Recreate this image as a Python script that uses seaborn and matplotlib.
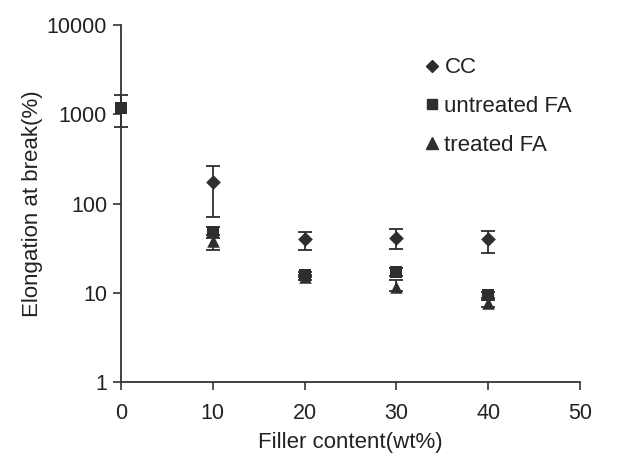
import numpy as np
import pandas as pd
import matplotlib
matplotlib.use("Agg")
import matplotlib.pyplot as plt
import seaborn as sns
from matplotlib.ticker import FixedLocator, FixedFormatter, NullLocator
from matplotlib.lines import Line2D

# ---- data ----
cc_x = [10, 20, 30, 40]
cc_y = [172, 40, 41, 40]
cc_lo = [70, 30, 31, 28]
cc_hi = [262, 48, 52, 49]

ufa_x = [0, 10, 20, 30, 40]
ufa_y = [1170, 48, 16, 17, 9.5]
ufa_lo = [714, 41, 15, 15.5, 8.8]
ufa_hi = [1633, 55, 17, 19, 10.3]

tfa_x = [10, 20, 30, 40]
tfa_y = [38, 15, 11.5, 7.6]
tfa_lo = [30, 14, 10.5, 7.0]
tfa_hi = [45, 16, 14, 8.3]

series_names = ["CC", "untreated FA", "treated FA"]
x_ticks = [0, 10, 20, 30, 40, 50]
y_ticks = [1, 10, 100, 1000, 10000]
y_tick_labels = ["1", "10", "100", "1000", "10000"]

sns.set_theme(style="white")
plt.rcParams["font.family"] = ["Liberation Sans", "DejaVu Sans"]

col = "#2e2e2e"
frames = []
for name, xs, ys, lo, hi in [
    ("CC", cc_x, cc_y, cc_lo, cc_hi),
    ("untreated FA", ufa_x, ufa_y, ufa_lo, ufa_hi),
    ("treated FA", tfa_x, tfa_y, tfa_lo, tfa_hi),
]:
    frames.append(pd.DataFrame({"x": xs, "y": ys, "lo": lo, "hi": hi, "series": name}))
df = pd.concat(frames, ignore_index=True)

fig = plt.figure(figsize=(6.27, 4.61), dpi=100)
ax = fig.add_axes([0.193, 0.171, 0.732, 0.775])

markers = {"CC": "D", "untreated FA": "s", "treated FA": "^"}
sizes_pt = {"CC": 7.5, "untreated FA": 8.5, "treated FA": 9}

# error bars
for name in series_names:
    d = df[df.series == name]
    yerr = np.vstack([d.y - d.lo, d.hi - d.y])
    ax.errorbar(d.x, d.y, yerr=yerr, fmt="none", ecolor=col, elinewidth=1.3,
                capsize=5, capthick=1.3, clip_on=False, zorder=2)

# markers via seaborn
for name in series_names:
    d = df[df.series == name]
    sns.scatterplot(data=d, x="x", y="y", marker=markers[name], color=col,
                    s=sizes_pt[name] ** 2, edgecolor=col, linewidth=0,
                    ax=ax, clip_on=False, zorder=3, legend=False)

ax.set_yscale("log")
ax.set_ylim(1, 10000)
ax.set_xlim(0, 50)
ax.yaxis.set_major_locator(FixedLocator(y_ticks))
ax.yaxis.set_major_formatter(FixedFormatter(y_tick_labels))
ax.yaxis.set_minor_locator(NullLocator())
ax.set_xticks(x_ticks)
ax.set_xticklabels([str(t) for t in x_ticks])

for s in ["top", "right"]:
    ax.spines[s].set_visible(False)
for s in ["left", "bottom"]:
    ax.spines[s].set_color("#333333")
    ax.spines[s].set_linewidth(1.3)

ax.tick_params(axis="both", which="major", direction="out", length=6, width=1.2,
               color="#333333", labelsize=15.5, labelcolor="#222222", pad=4,
               left=True, bottom=True)
ax.tick_params(axis="x", pad=9)

ax.set_xlabel("Filler content(wt%)", fontsize=16, color="#222222", labelpad=6)
ax.set_ylabel("Elongation at break(%)", fontsize=16, color="#222222", labelpad=3)

handles = [Line2D([], [], linestyle="none", marker=markers[n], color=col,
                  markersize={"CC": 6.5, "untreated FA": 7, "treated FA": 8}[n])
           for n in series_names]
ax.legend(handles, series_names, loc="upper left", bbox_to_anchor=(0.62, 0.965),
          frameon=False, fontsize=16, handlelength=0.6, handletextpad=0.25,
          labelspacing=0.8, labelcolor="#222222")

fig.savefig("out.png", dpi=100, facecolor="white")
